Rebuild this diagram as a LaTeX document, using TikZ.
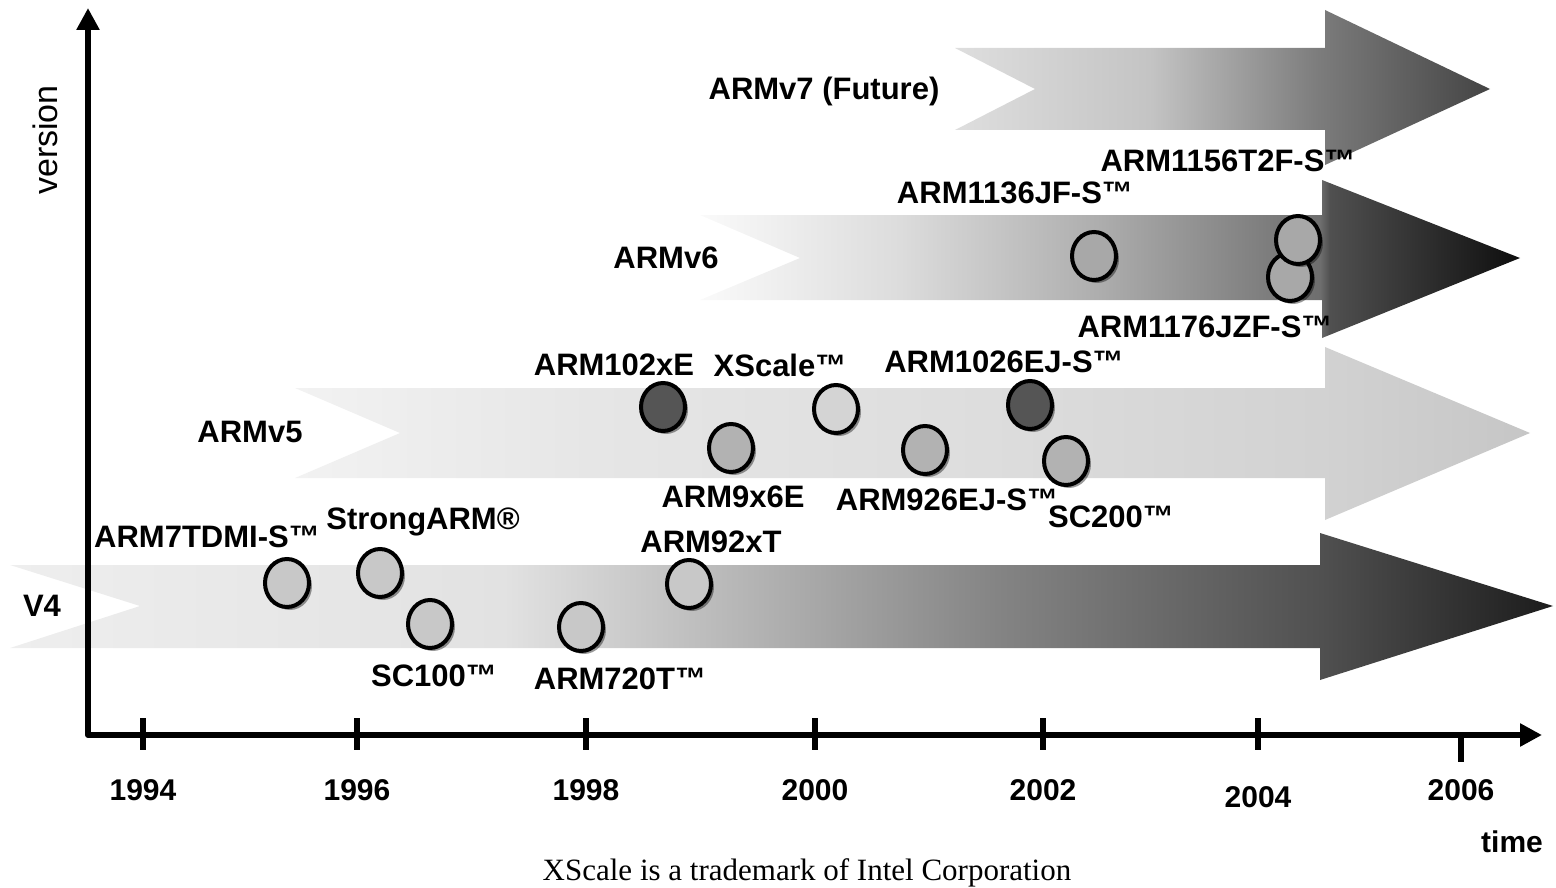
\documentclass[tikz,border=0pt]{standalone}
\usepackage{fontspec}
\setmainfont{Liberation Sans}
\newfontfamily\serifft{Liberation Serif}
\usetikzlibrary{arrows.meta,shapes.geometric,shadows}

\definecolor{vaA}{HTML}{EEEEEE}
\definecolor{vaB}{HTML}{E2E2E2}
\definecolor{vaC}{HTML}{B4B4B4}
\definecolor{vaD}{HTML}{848484}
\definecolor{vaE}{HTML}{505050}
\definecolor{vaF}{HTML}{1C1C1C}
\pgfdeclarehorizontalshading{vfourshade}{100bp}{color(0bp)=(vaA); color(25bp)=(vaA); color(41bp)=(vaB); color(49bp)=(vaC); color(57bp)=(vaD); color(67.5bp)=(vaE); color(75bp)=(vaF); color(100bp)=(vaF)}

\definecolor{vbA}{HTML}{F2F2F2}
\definecolor{vbB}{HTML}{E6E6E6}
\definecolor{vbC}{HTML}{DDDDDD}
\definecolor{vbD}{HTML}{D2D2D2}
\definecolor{vbE}{HTML}{C6C6C6}
\pgfdeclarehorizontalshading{vfiveshade}{100bp}{color(0bp)=(vbA); color(25bp)=(vbA); color(37bp)=(vbB); color(53bp)=(vbC); color(66.5bp)=(vbD); color(75bp)=(vbE); color(100bp)=(vbE)}

\definecolor{vcA}{HTML}{FAFAFA}
\definecolor{vcB}{HTML}{DCDCDC}
\definecolor{vcC}{HTML}{ADADAD}
\definecolor{vcD}{HTML}{6E6E6E}
\definecolor{vcE}{HTML}{505050}
\definecolor{vcF}{HTML}{0E0E0E}
\pgfdeclarehorizontalshading{vsixshade}{100bp}{color(0bp)=(vcA); color(25bp)=(vcA); color(37.2bp)=(vcB); color(49.4bp)=(vcC); color(62.8bp)=(vcD); color(63.4bp)=(vcE); color(75bp)=(vcF); color(100bp)=(vcF)}

\definecolor{vdA}{HTML}{DEDEDE}
\definecolor{vdB}{HTML}{C4C4C4}
\definecolor{vdC}{HTML}{7C7C7C}
\definecolor{vdD}{HTML}{444444}
\pgfdeclarehorizontalshading{vsevenshade}{100bp}{color(0bp)=(vdA); color(25bp)=(vdA); color(43.2bp)=(vdB); color(59bp)=(vdC); color(75bp)=(vdD); color(100bp)=(vdD)}

\definecolor{corelight}{HTML}{C8C8C8}
\definecolor{coremid}{HTML}{B2B2B2}
\definecolor{corepale}{HTML}{D4D4D4}
\definecolor{coredark}{HTML}{555555}
\definecolor{coresix}{HTML}{A8A8A8}

\tikzset{
  core/.style={ellipse, draw=black, line width=4pt, minimum width=44pt, minimum height=48pt,
    inner sep=0pt, fill=#1,
    drop shadow={shadow xshift=3pt, shadow yshift=-3pt, fill=black, opacity=0.4}},
  lbl/.style={inner sep=0pt, font=\fontsize{31}{34}\selectfont\bfseries},
  yearlbl/.style={inner sep=0pt, font=\fontsize{30}{32}\selectfont\bfseries},
  axisline/.style={line width=6pt, line join=round},
  tickmark/.style={line width=6pt},
}

\begin{document}
\begin{tikzpicture}[x=1pt,y=-1pt]
\useasboundingbox (0,0) rectangle (1556,888);

% version arrows
\path[shading=vsevenshade] (955,48) -- (1325,48) -- (1325,10) -- (1490,89) -- (1325,165) -- (1325,130) -- (955,130) -- (1035,89) -- cycle;
\path[shading=vsixshade] (700,215) -- (1322,215) -- (1322,180) -- (1520,258) -- (1322,338) -- (1322,300) -- (700,300) -- (800,258) -- cycle;
\path[shading=vfiveshade] (295,388) -- (1325,388) -- (1325,347) -- (1530,433) -- (1325,520) -- (1325,478) -- (295,478) -- (400,433) -- cycle;
\path[shading=vfourshade] (10,565) -- (1320,565) -- (1320,533) -- (1553,606) -- (1320,680) -- (1320,648) -- (10,648) -- (140,606) -- cycle;

% version labels
\node[lbl] (lv7) at (824,91) {ARMv7 (Future)};
\node[lbl] (lv6) at (666,258) {ARMv6};
\node[lbl] (lv5) at (250,432) {ARMv5};
\node[lbl] (lv4) at (42,606) {V4};

% axes
\coordinate (ytop) at (88,8);
\coordinate (origin) at (88,735);
\coordinate (xend) at (1542,735);
\draw[axisline, {Triangle[length=22pt,width=22pt]}-{Triangle[length=22pt,width=22pt]}] (ytop) -- (origin) -- (xend);

\foreach \xx in {143,357,586,815,1043,1258} {
  \draw[tickmark] (\xx,718) -- (\xx,750);
}
\draw[tickmark] (1461,735) -- (1461,762);

\node[yearlbl] (y94) at (143,790) {1994};
\node[yearlbl] (y96) at (357,790) {1996};
\node[yearlbl] (y98) at (586,790) {1998};
\node[yearlbl] (y00) at (815,790) {2000};
\node[yearlbl] (y02) at (1043,790) {2002};
\node[yearlbl] (y04) at (1258,797) {2004};
\node[yearlbl] (y06) at (1461,790) {2006};
\node[yearlbl] (ltime) at (1512,842) {time};
\node[inner sep=0pt, font=\fontsize{34}{36}\selectfont, rotate=90] (lversion) at (45,140) {version};
\node[inner sep=0pt, font=\fontsize{31}{33}\selectfont\serifft] (lfoot) at (807,873) {XScale is a trademark of Intel Corporation};

% cores
\node[core=corelight] (c7tdmi) at (287,583) {};
\node[core=corelight] (cstrong) at (380,573) {};
\node[core=corelight] (csc100) at (430,624) {};
\node[core=corelight] (c720t) at (581,627) {};
\node[core=corelight] (c92xt) at (689,584) {};
\node[core=coredark] (c102xe) at (663,407) {};
\node[core=coremid] (c9x6e) at (731,448) {};
\node[core=corepale] (cxscale) at (836,409) {};
\node[core=coremid] (c926) at (925,450) {};
\node[core=coredark] (c1026) at (1030,405) {};
\node[core=coremid] (csc200) at (1066,461) {};
\node[core=coresix] (c1136) at (1094,256) {};
\node[core=coresix] (c1176) at (1290,277) {};
\node[core=coresix] (c1156) at (1298,240) {};

% core labels
\node[lbl] (l7tdmi) at (207,537) {ARM7TDMI-S™};
\node[lbl] (lstrong) at (423,522) {StrongARM®};
\node[lbl] (lsc100) at (434,676) {SC100™};
\node[lbl] (l720t) at (620,679) {ARM720T™};
\node[lbl] (l92xt) at (711,542) {ARM92xT};
\node[lbl] (l102xe) at (614,365) {ARM102xE};
\node[lbl] (lxscale) at (780,365) {XScale™};
\node[lbl] (l1026) at (1004,362) {ARM1026EJ-S™};
\node[lbl] (l9x6e) at (733,497) {ARM9x6E};
\node[lbl] (l926) at (947,500) {ARM926EJ-S™};
\node[lbl] (lsc200) at (1111,517) {SC200™};
\node[lbl] (l1136) at (1015,193) {ARM1136JF-S™};
\node[lbl] (l1156) at (1228,161) {ARM1156T2F-S™};
\node[lbl] (l1176) at (1205,327) {ARM1176JZF-S™};
\end{tikzpicture}
\end{document}
